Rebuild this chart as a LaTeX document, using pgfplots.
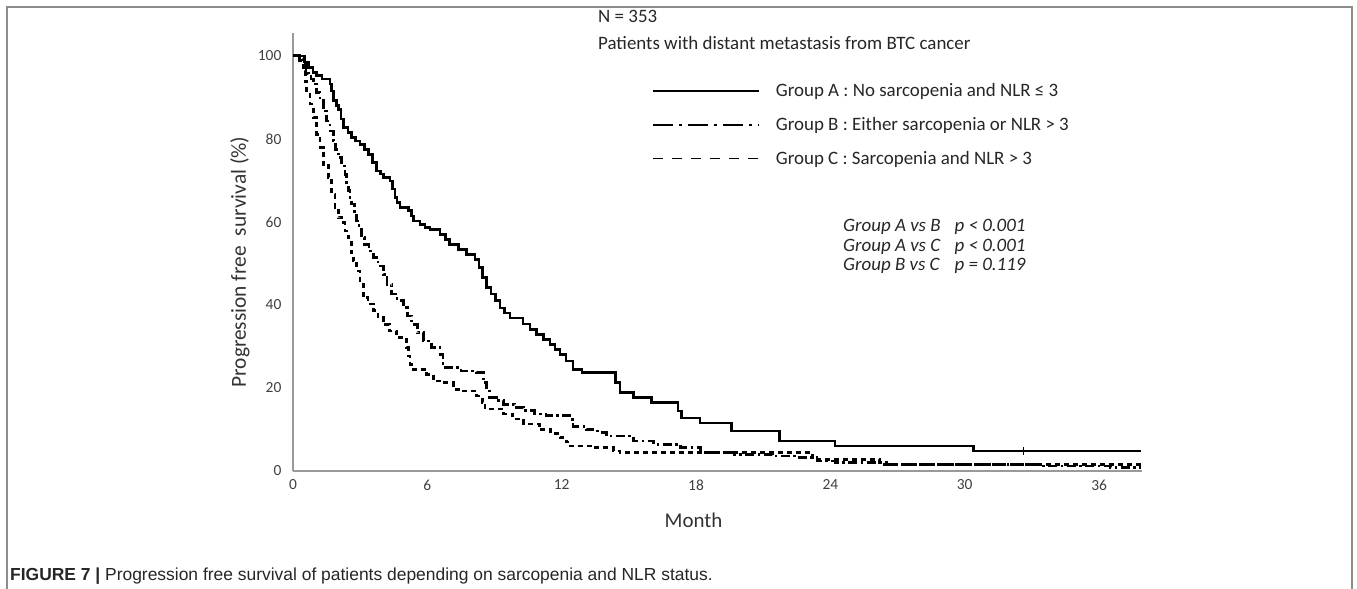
\documentclass[border=0pt]{standalone}
\usepackage{pgfplots}
\pgfplotsset{compat=1.18}
\usepackage{fontspec}
\setmainfont{Carlito}
\newfontfamily\capfont{Liberation Sans}

\begin{document}
\begin{tikzpicture}[x=1bp,y=-1bp]
\useasboundingbox (0,0) rectangle (1357,589);
\draw[black!45, line width=1.3bp] (7,589) -- (7,7) -- (1352,7) -- (1352,589);
\begin{axis}[
  at={(293bp,-471bp)}, anchor=south west,
  scale only axis, width=848.6bp, height=438bp,
  xmin=0, xmax=37.9, ymin=0, ymax=105.5,
  axis x line=bottom, axis y line=left,
  axis line style={-, draw=black!40, line width=1.6bp},
  xtick={0,6,...,36}, ytick={0,20,...,100},
  tick style={draw=none},
  /pgf/number format/assume math mode=true,
  xticklabel style={font=\fontsize{15.5}{17}\selectfont, text=black!75, yshift=-3bp},
  yticklabel style={font=\fontsize{15.5}{17}\selectfont, text=black!75, xshift=-6bp},
  xlabel={Month},
  xlabel style={at={(axis description cs:0.472,0)}, anchor=center, yshift=-49bp, font=\fontsize{21}{25}\selectfont, text=black!80},
  ylabel={Progression free\ \ survival (\%)},
  ylabel style={at={(axis description cs:-0.0625,0.477)}, anchor=center, rotate=0, font=\fontsize{21.5}{25}\selectfont, text=black!80},
  legend style={draw=none, fill=none, at={(axis description cs:0.4231,0.889)}, anchor=north west,
    font=\fontsize{19}{22}\selectfont, text=black!85, row sep=15bp, inner sep=0pt,
    /tikz/every odd column/.append style={column sep=14bp}},
  legend cell align=left,
  legend image code/.code={\draw[#1] (0bp,0bp) -- (106bp,0bp);},
]
\addlegendimage{black, line width=1.6bp}
\addlegendentry{Group A : No sarcopenia and NLR ≤ 3}
\addlegendimage{black, line width=1.6bp, dash pattern=on 20bp off 6bp on 3bp off 6bp}
\addlegendentry{Group B : Either sarcopenia or NLR > 3}
\addlegendimage{black, line width=1.6bp, dash pattern=on 10bp off 9bp}
\addlegendentry{Group C : Sarcopenia and NLR > 3}

% Group A
\addplot[const plot, black, line width=2.6bp, forget plot] coordinates {
(0,100) (0.5,98.5) (0.7,97.2) (0.9,96) (1.06,95.2) (1.3,94.4) (1.65,93.2) (1.72,91.5)
(1.8,89.2) (1.95,88) (2.02,87.1) (2.15,84.8) (2.25,82.7) (2.45,81.5) (2.62,80.3) (2.8,79.5)
(2.99,78.7) (3.2,77.5) (3.36,76.3) (3.55,74.3) (3.74,72.3) (3.9,71.5) (4.03,70.7) (4.33,69.9)
(4.45,67.9) (4.55,65.9) (4.65,64.7) (4.78,63.5) (5.15,62.7) (5.3,61.4) (5.37,60.2) (5.67,59.4)
(5.9,58.6) (6.12,58.2) (6.56,57.0) (6.8,55.8) (7.0,54.6) (7.4,53.4) (7.75,52.2) (8.13,51.0)
(8.3,49.0) (8.45,46.6) (8.65,44.2) (8.85,42.6) (9.05,41.0) (9.24,39.3) (9.45,38.1) (9.69,36.9)
(10.27,35.4) (10.58,34.1) (10.88,32.9) (11.2,31.7) (11.47,30.5) (11.7,29.3) (11.92,28.1) (12.2,26.5)
(12.51,24.5) (12.9,23.7) (14.4,21.3) (14.6,18.9) (15.2,17.7) (16.0,16.5) (17.2,14.5) (17.35,12.8)
(18.17,11.6) (19.58,9.6) (21.74,7.2) (24.2,6.0) (30.4,4.8) (37.85,4.8)
};
\addplot[only marks, mark=|, mark size=4bp, black, forget plot] coordinates {(32.6,4.8)};

% Group B
\addplot[const plot, black, line width=2.7bp, dash pattern=on 9bp off 3.5bp on 2.5bp off 3.5bp, forget plot] coordinates {
(0,100) (0.3,99.4) (0.46,98.8) (0.55,97.2) (0.68,95.6) (0.8,94.4) (0.9,93.2) (1.05,91.2)
(1.2,89.2) (1.35,86.7) (1.5,84.3) (1.65,81.9) (1.8,79.5) (1.9,77.5) (2.02,75.5) (2.17,73.5)
(2.32,71.5) (2.4,69.5) (2.47,67.5) (2.55,65.9) (2.62,64.3) (2.75,62.2) (2.84,60.2) (2.95,58.2)
(3.07,56.2) (3.2,54.6) (3.4,53.0) (3.59,51.4) (3.8,49.4) (4.03,47.4) (4.2,45.0) (4.41,42.6)
(4.65,41.0) (4.92,39.3) (5.1,37.3) (5.3,35.3) (5.55,33.3) (5.82,31.3) (6.2,29.7) (6.56,28.1)
(6.7,24.9) (7.5,24.1) (8.2,23.7) (8.5,21.3) (8.65,20.1) (8.79,17.7) (9.1,16.9) (9.4,16.1)
(9.9,15.3) (10.28,14.5) (10.8,13.7) (11.3,13.3) (12.37,12.4) (12.51,10.8) (13.1,10.0) (13.6,9.2)
(14.0,8.4) (15.2,7.2) (16.1,6.4) (17.3,5.6) (18.2,4.4) (19.7,4.0) (21.4,3.6) (22.6,3.2)
(23.4,2.4) (24.2,2.0) (26.5,1.6) (33.5,1.2) (36.5,0.8) (37.85,0.8)
};

% Group C
\addplot[const plot, black, line width=2.7bp, dash pattern=on 5bp off 4bp, forget plot] coordinates {
(0,100) (0.3,98.8) (0.46,96.4) (0.55,93.8) (0.61,91.6) (0.76,88.4) (0.9,85.1) (1.06,81.1)
(1.2,77.9) (1.35,73.9) (1.58,70.7) (1.73,66.7) (1.88,63.5) (2.02,61.0) (2.17,59.8) (2.32,57.8)
(2.47,56.2) (2.6,52.6) (2.69,50.6) (2.85,48.2) (2.99,45.8) (3.14,41.8) (3.35,40.2) (3.59,38.6)
(3.8,36.9) (4.03,35.3) (4.3,33.7) (4.63,32.1) (5.08,29.7) (5.15,27.7) (5.22,25.7) (5.37,24.5)
(5.97,23.3) (6.26,21.7) (6.71,21.3) (7.16,19.7) (7.6,19.3) (8.2,18.1) (8.45,16.5) (8.57,14.9)
(9.4,13.7) (9.8,12.5) (10.3,11.3) (11.0,10.0) (11.5,9.0) (11.92,8.0) (12.2,7.0) (12.37,6.0)
(13.4,5.6) (14.3,4.8) (14.6,4.4) (23.2,2.8) (26.2,1.6) (37.85,1.2)
};
\end{axis}

\node[anchor=west, font=\fontsize{19}{22}\selectfont, text=black!85, inner sep=0pt] at (598,16) {N = 353};
\node[anchor=west, font=\fontsize{19}{22}\selectfont, text=black!85, inner sep=0pt] at (598,43) {Patients with distant metastasis from BTC cancer};
\node[anchor=north west, font=\fontsize{19}{20}\selectfont\itshape, text=black!85, inner sep=0pt] at (843,217)
  {\begin{tabular}{@{}l@{\hspace{14bp}}l@{}}
   Group A vs B & p < 0.001\\
   Group A vs C & p < 0.001\\
   Group B vs C & p = 0.119
   \end{tabular}};
\node[anchor=west, font=\capfont\fontsize{17.5}{20}\selectfont, text=black!85, inner sep=0pt] at (10,576)
  {\textbf{FIGURE 7 |} Progression free survival of patients depending on sarcopenia and NLR status.};
\end{tikzpicture}
\end{document}
